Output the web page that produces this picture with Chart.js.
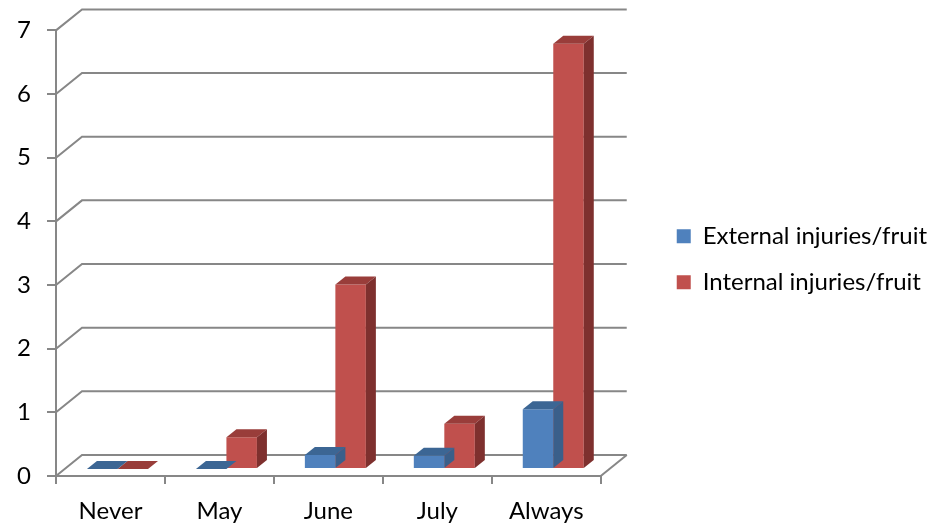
<!DOCTYPE html>
<html>
<head>
<meta charset="utf-8">
<script src="https://cdn.jsdelivr.net/npm/chart.js@4.4.0/dist/chart.umd.min.js"></script>
<style>
  html, body { margin: 0; padding: 0; background: #fff; }
  #wrap { width: 946px; height: 525px; }
</style>
</head>
<body>
<div id="wrap"><canvas id="chart"></canvas></div>
<script>
const categories = ['Never', 'May', 'June', 'July', 'Always'];
const externalInjuries = [0, 0, 0.22, 0.21, 0.94];
const internalInjuries = [0, 0.5, 2.9, 0.71, 6.68];
const yTicks = [0, 1, 2, 3, 4, 5, 6, 7];
const seriesNames = ['External injuries/fruit', 'Internal injuries/fruit'];

const frontColors = ['#4F81BD', '#C0504D'];
const topColors = ['#3C6694', '#993D3A'];
const sideColors = ['#3A5F8A', '#7E302E'];
const gridColor = '#878787';

// fake 3d offsets
const wall = {dx: 26, dy: -21};
const depth = {dx: 10, dy: -8};
const shift = {dx: 7, dy: -7};

const fontName = 'Lato, "Open Sans", sans-serif';

const wallPlugin = {
    id: 'wall3d',
    beforeDatasetsDraw(chart) {
        const {ctx, chartArea, scales} = chart;
        const L = chartArea.left, R = chartArea.right, B = chartArea.bottom;
        ctx.save();
        ctx.strokeStyle = gridColor;
        ctx.lineWidth = 2;
        yTicks.forEach(v => {
            const y = scales.y.getPixelForValue(v);
            ctx.beginPath();
            ctx.moveTo(L, y);
            ctx.lineTo(L + wall.dx, y + wall.dy);
            ctx.lineTo(R + wall.dx, y + wall.dy);
            ctx.stroke();
        });
        ctx.beginPath();
        ctx.moveTo(R, B);
        ctx.lineTo(R + wall.dx, B + wall.dy);
        ctx.stroke();
        ctx.restore();
        // bars sit a bit back from the front plane
        ctx.save();
        ctx.translate(shift.dx, shift.dy);
    },
    afterDatasetDraw(chart, args) {
        const ctx = chart.ctx;
        const i = args.index;
        const meta = chart.getDatasetMeta(i);
        meta.data.forEach(bar => {
            const {x, y, base, width} = bar.getProps(['x', 'y', 'base', 'width'], true);
            const l = x - width / 2, r = x + width / 2;
            const t = Math.min(y, base), b = Math.max(y, base);
            ctx.fillStyle = topColors[i];
            ctx.beginPath();
            ctx.moveTo(l, t);
            ctx.lineTo(l + depth.dx, t + depth.dy);
            ctx.lineTo(r + depth.dx, t + depth.dy);
            ctx.lineTo(r, t);
            ctx.closePath();
            ctx.fill();
            ctx.fillStyle = sideColors[i];
            ctx.beginPath();
            ctx.moveTo(r, t);
            ctx.lineTo(r + depth.dx, t + depth.dy);
            ctx.lineTo(r + depth.dx, b + depth.dy);
            ctx.lineTo(r, b);
            ctx.closePath();
            ctx.fill();
        });
    },
    afterDatasetsDraw(chart) {
        chart.ctx.restore();
    }
};

const data = {
    labels: categories,
    datasets: [{
            label: seriesNames[0],
            data: externalInjuries,
            backgroundColor: frontColors[0],
            borderWidth: 0,
            yAxisID: 'y'
        }, {
            label: seriesNames[1],
            data: internalInjuries,
            backgroundColor: frontColors[1],
            borderWidth: 0,
            yAxisID: 'y'
        }]
};

const config = {
    type: 'bar',
    data: data,
    plugins: [wallPlugin],
    options: {
        responsive: true,
        maintainAspectRatio: false,
        animation: false,
        devicePixelRatio: 1,
        layout: {
            padding: {top: 29, left: 0, right: 9, bottom: 0}
        },
        datasets: {
            bar: {categoryPercentage: 0.56, barPercentage: 1.0}
        },
        scales: {
            x: {
                grid: {
                    offset: true,
                    drawOnChartArea: false,
                    drawTicks: true,
                    tickLength: 8,
                    color: gridColor,
                    lineWidth: 2
                },
                border: {display: true, color: gridColor, width: 2},
                ticks: {
                    color: '#000',
                    padding: 13,
                    font: {family: fontName, size: 24}
                },
                afterFit: s => { s.height = 49; }
            },
            y: {
                min: 0,
                max: 7,
                grid: {
                    drawOnChartArea: false,
                    drawTicks: true,
                    tickLength: 9,
                    color: gridColor,
                    lineWidth: 2
                },
                border: {display: true, color: gridColor, width: 2},
                ticks: {
                    stepSize: 1,
                    color: '#000',
                    padding: 16,
                    font: {family: fontName, size: 24}
                },
                afterFit: s => { s.width = 56; }
            },
            gap: {
                type: 'linear',
                position: 'right',
                display: true,
                grid: {display: false},
                border: {display: false},
                ticks: {display: false},
                afterFit: s => { s.width = 54; }
            }
        },
        plugins: {
            tooltip: {enabled: false},
            legend: {
                position: 'right',
                align: 'start',
                maxWidth: 340,
                title: {display: true, text: '', font: {size: 1}, padding: {top: 86, bottom: 86}},
                labels: {
                    boxWidth: 14,
                    boxHeight: 14,
                    padding: 22,
                    color: '#000',
                    font: {family: fontName, size: 24}
                }
            }
        }
    }
};

let ctx = document.getElementById('chart').getContext('2d');
new Chart(ctx, config);
</script>
</body>
</html>
